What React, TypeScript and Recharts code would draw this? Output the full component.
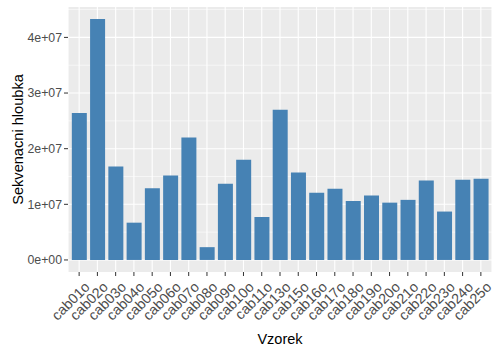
import React from "react";
import { BarChart, Bar, XAxis, YAxis, CartesianGrid } from "recharts";

const samples = [
  "cab01o", "cab02o", "cab03o", "cab04o", "cab05o", "cab06o", "cab07o", "cab08o",
  "cab09o", "cab10o", "cab11o", "cab13o", "cab15o", "cab16o", "cab17o", "cab18o",
  "cab19o", "cab20o", "cab21o", "cab22o", "cab23o", "cab24o", "cab25o",
];
const depth = [
  26.4e6, 43.3e6, 16.8e6, 6.7e6, 12.9e6, 15.2e6, 22.0e6, 2.3e6,
  13.7e6, 18.0e6, 7.7e6, 27.0e6, 15.7e6, 12.1e6, 12.8e6, 10.6e6,
  11.6e6, 10.3e6, 10.8e6, 14.3e6, 8.7e6, 14.4e6, 14.6e6,
];
const majorTicks = [0, 1e7, 2e7, 3e7, 4e7];
const minorTicks = [0.5e7, 1.5e7, 2.5e7, 3.5e7, 4.5e7];
const tickLabels = ["0e+00", "1e+07", "2e+07", "3e+07", "4e+07"];

const data = samples.map((s, i) => ({ sample: s, depth: depth[i] }));

const FONT = "'Liberation Sans', Arial, sans-serif";

const XTick = (props: any) => {
  const { x, y, payload } = props;
  return (
    <g transform={`translate(${x + 11.5},${y + 10})`}>
      <text
        x={0}
        y={0}
        textAnchor="end"
        transform="rotate(-45)"
        fill="#4D4D4D"
        fontSize={14.3}
        fontFamily={FONT}
      >
        {payload.value}
      </text>
    </g>
  );
};

export default function App() {
  return (
    <div style={{ position: "absolute", left: 0, top: 0, width: 500, height: 354, background: "#fff" }}>
      <BarChart
        width={500}
        height={354}
        data={data}
        margin={{ top: 7, right: 8, left: 0, bottom: 0 }}
        barCategoryGap="10%"
      >
        <CartesianGrid fill="#EBEBEB" stroke="#FFFFFF" strokeWidth={1.1} horizontalValues={majorTicks} />
        <CartesianGrid vertical={false} stroke="#FFFFFF" strokeWidth={0.55} horizontalValues={minorTicks} />
        <XAxis
          dataKey="sample"
          height={82}
          interval={0}
          padding={{ left: 2, right: 2 }}
          axisLine={false}
          tickSize={4}
          tickLine={{ stroke: "#333333" }}
          tick={<XTick />}
          label={{ value: "Vzorek", position: "insideBottom", offset: 10, fill: "#000", fontSize: 14.5, fontFamily: FONT }}
        />
        <YAxis
          type="number"
          width={68}
          domain={[-0.2165e7, 4.5465e7]}
          ticks={majorTicks}
          allowDataOverflow
          axisLine={false}
          tickSize={4}
          tickLine={{ stroke: "#333333" }}
          tickFormatter={(v: number) => tickLabels[majorTicks.indexOf(v)]}
          tick={{ fill: "#4D4D4D", fontSize: 12.3, fontFamily: FONT }}
          label={{
            value: "Sekvenacni hloubka",
            angle: -90,
            position: "insideLeft",
            offset: 18,
            fill: "#000",
            fontSize: 14.6,
            fontFamily: FONT,
            style: { textAnchor: "middle" },
          }}
        />
        <Bar dataKey="depth" fill="#4682B4" isAnimationActive={false} />
      </BarChart>
    </div>
  );
}
